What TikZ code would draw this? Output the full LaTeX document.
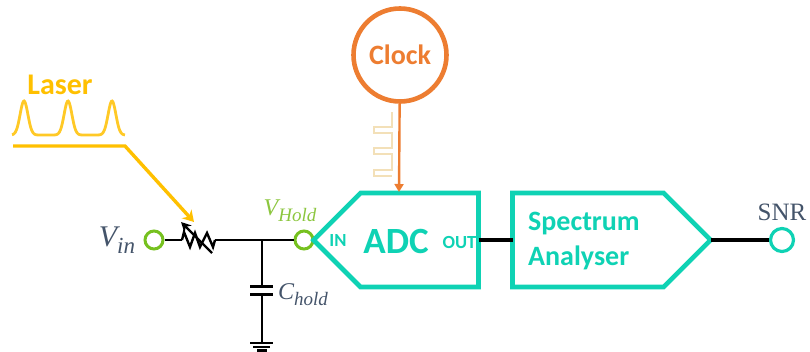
\documentclass[tikz,border=0pt]{standalone}
\usepackage{fontspec}
\setmainfont{Carlito}
\newfontfamily\snrfont{Liberation Serif}
\usepackage{xcolor}
\definecolor{tealadc}{HTML}{0FD2B4}
\definecolor{greenterm}{HTML}{76C11F}
\definecolor{greenhold}{HTML}{8CC63F}
\definecolor{orangeclk}{HTML}{ED7D31}
\definecolor{yellowlas}{HTML}{FFC000}
\definecolor{tanclk}{HTML}{F3E0B8}
\definecolor{slatetxt}{HTML}{44546A}
\usetikzlibrary{shapes.symbols, arrows.meta, positioning}
\newcommand{\varsub}[4]{{\snrfont\itshape\fontsize{#1}{#1}\selectfont #3\raisebox{-0.25em}{\fontsize{#2}{#2}\selectfont #4}}}
\tikzset{
  termg/.style={circle, draw=greenterm, line width=3pt, fill=white, minimum size=18pt, inner sep=0pt},
  termt/.style={circle, draw=tealadc, line width=3.2pt, fill=white, minimum size=23pt, inner sep=0pt},
  blockt/.style={signal, signal pointer angle=90, draw=tealadc, line width=4.6pt, miter limit=10, inner sep=0pt, outer sep=0pt},
  tealtxt/.style={text=tealadc, font=\bfseries, inner sep=0pt},
  slatem/.style={text=slatetxt, inner sep=0pt},
  wire/.style={line width=2.4pt, color=black},
  wirec/.style={line width=2.6pt, color=black},
}
\begin{document}
\begin{tikzpicture}[x=1pt, y=-1pt]
  \useasboundingbox (0,0) rectangle (810,351);
  % laser pulses
  \node[text=yellowlas, font=\bfseries\fontsize{30}{30}\selectfont, inner sep=0pt] (laser) at (60,85) {Laser};
  \draw[yellowlas!85, line width=2.8pt] plot[domain=12:125, samples=160, smooth]
    (\x,{135-34*(exp(-((\x-24)/5.5)^2)+exp(-((\x-68)/5.5)^2)+exp(-((\x-112)/5.5)^2))});
  \coordinate (lasA) at (13,146);
  \coordinate (lasB) at (125,146);
  \coordinate (lasC) at (194,222);
  \draw[yellowlas, line width=3.4pt, -{Stealth[length=11pt, width=13pt]}] (lasA) -- (lasB) -- (lasC);

  % input side
  \node[slatem] (vinlbl) at (117,240) {\varsub{30}{23}{V}{in}};
  \node[termg] (vin) at (154,240) {};
  \node[termg] (vhold) at (304,240) {};
  \node[text=greenhold, inner sep=0pt] (vholdlbl) at (290,211) {\varsub{24}{19}{V}{Hold}};
  \coordinate (resA) at (182,240);
  \coordinate (resB) at (215,240);
  \coordinate (jn) at (262,240);
  \draw[wire] (vin) -- (resA);
  \draw[wire, line join=miter] (resA) -- (184,232) -- (190,247) -- (195,233) -- (200,247) -- (207,233) -- (213,247) -- (215,240) -- (resB);
  \draw[line width=2.2pt, -{Stealth[length=10pt, width=10pt]}] (212,253) -- (181,222);
  \draw[wire] (resB) -- (jn) -- (vhold);

  % hold capacitor
  \coordinate (capT) at (262,286);
  \coordinate (capB) at (262,294);
  \coordinate (gnd) at (262,343);
  \draw[wirec] (jn) -- (capT);
  \draw[wirec] (capB) -- (gnd);
  \draw[line width=3pt] (250,286) -- (273,286);
  \draw[line width=3pt] (250,294) -- (273,294);
  \draw[line width=2.6pt] (250,343) -- (273,343);
  \draw[line width=2.6pt] (253,347) -- (270,347);
  \draw[line width=2.6pt] (257,350.5) -- (267,350.5);
  \node[slatem] (choldlbl) at (303,295) {\varsub{24}{19}{C}{hold}};

  % clock
  \node[circle, draw=orangeclk, line width=4.6pt, minimum size=93pt, inner sep=0pt, text=orangeclk, font=\bfseries\fontsize{28}{28}\selectfont] (clk) at (400,55) {Clock};
  \draw[tanclk, line width=1.8pt] (392,112) -- (392,127) -- (374,127) -- (374,133) -- (392,133) -- (392,148) -- (374,148) -- (374,154) -- (392,154) -- (392,170) -- (374,170) -- (374,176) -- (392,176);

  % adc and analyser
  \node[blockt, signal to=west, minimum width=165pt, minimum height=94pt] (adc) at (419.5,240) {};
  \node[blockt, signal to=east, minimum width=198pt, minimum height=94pt] (spec) at (588,240) {};
  \draw[orangeclk, line width=2.4pt, -{Triangle[length=8pt, width=9pt]}] (clk) -- (399,192);
  \node[tealtxt, font=\bfseries\fontsize{37}{37}\selectfont] (adclbl) at (396,241) {ADC};
  \node[tealtxt, font=\bfseries\fontsize{18.5}{18.5}\selectfont] (inlbl) at (338,240) {IN};
  \node[tealtxt, font=\bfseries\fontsize{18.5}{18.5}\selectfont] (outlbl) at (459.5,242) {OUT};
  \node[tealtxt, font=\bfseries\fontsize{28}{35}\selectfont, align=left, anchor=west] (speclbl) at (528,241) {Spectrum\\Analyser};
  \node[termt] (snr) at (782,240) {};
  \node[slatem, font=\snrfont\fontsize{25}{25}\selectfont] (snrlbl) at (782,212) {SNR};
  \draw[wirec, line width=3.4pt] (adc.east) -- (spec.west);
  \draw[wirec, line width=3.4pt] (spec.east) -- (snr);
\end{tikzpicture}
\end{document}
